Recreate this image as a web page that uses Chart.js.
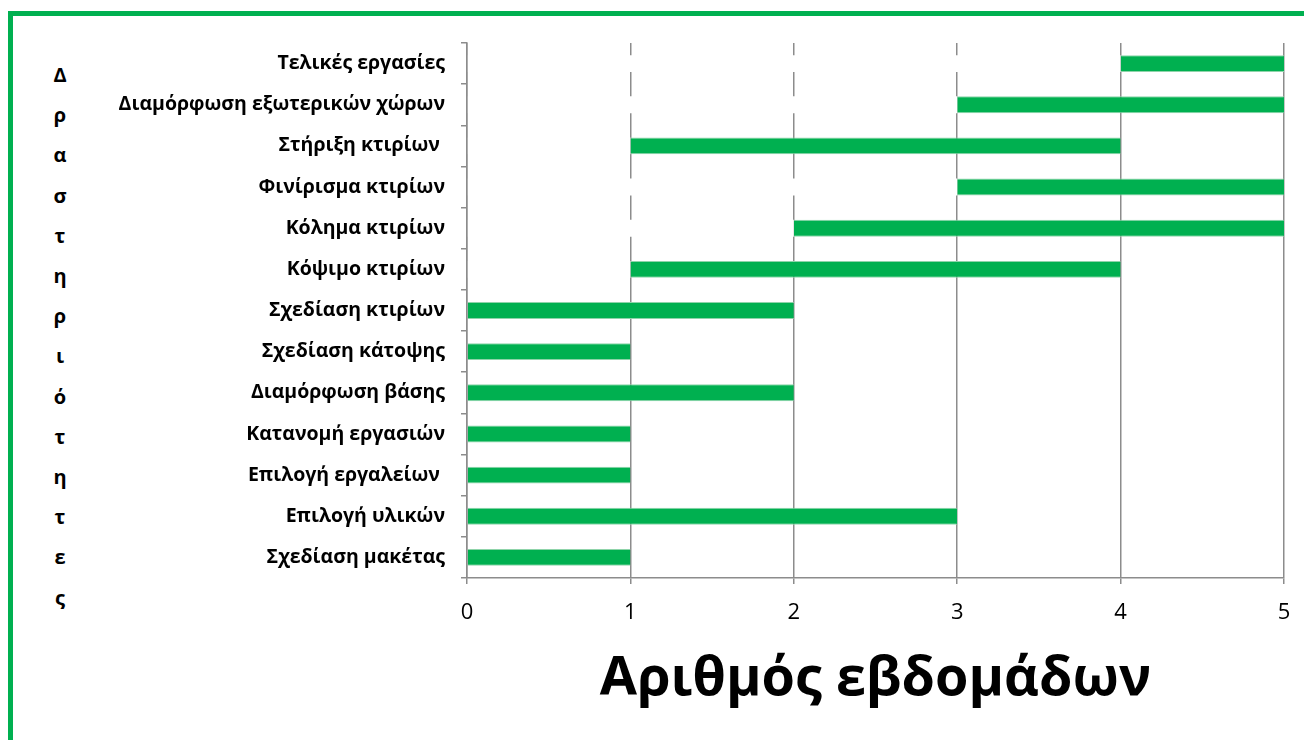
<!DOCTYPE html>
<html>
<head>
<meta charset="utf-8">
<script src="https://cdn.jsdelivr.net/npm/chart.js@4.4.0/dist/chart.umd.min.js"></script>
<style>
  html, body { margin: 0; padding: 0; background: #fff; overflow: hidden; }
  #wrap { position: relative; width: 1304px; height: 740px; }
  #frame {
    position: absolute; left: 8px; top: 11px; width: 1400px; height: 800px;
    border-left: 5px solid #00b050; border-top: 5px solid #00b050;
  }
  #ytitle {
    position: absolute; left: 40px; top: 55px; width: 40px;
    font: bold 20px 'Open Sans', sans-serif; line-height: 40.2px;
    text-align: center; color: #000;
  }
  #chart { position: absolute; left: 0; top: 0; }
</style>
</head>
<body>
<div id="wrap">
  <div id="frame"></div>
  <div id="ytitle"></div>
  <canvas id="chart" width="1304" height="740"></canvas>
</div>
<script>
const activities = [
    'Τελικές εργασίες',
    'Διαμόρφωση εξωτερικών χώρων',
    'Στήριξη κτιρίων ',
    'Φινίρισμα κτιρίων',
    'Κόλημα κτιρίων',
    'Κόψιμο κτιρίων',
    'Σχεδίαση κτιρίων',
    'Σχεδίαση κάτοψης',
    'Διαμόρφωση βάσης',
    'Κατανομή εργασιών',
    'Επιλογή εργαλείων ',
    'Επιλογή υλικών',
    'Σχεδίαση μακέτας'
];
const startWeek = [4, 3, 1, 3, 2, 1, 0, 0, 0, 0, 0, 0, 0];
const duration = [1, 2, 3, 2, 3, 3, 2, 1, 2, 1, 1, 3, 1];
const weekTicks = [0, 1, 2, 3, 4, 5];
const yTitle = 'Δραστηριότητες';
const xTitle = 'Αριθμός εβδομάδων';

const green = '#00b050';
const gray = '#8c8c8c';

document.getElementById('ytitle').innerHTML = yTitle.split('').join('<br>');

const ctx = document.getElementById('chart').getContext('2d');
new Chart(ctx, {
    type: 'bar',
    data: {
        labels: activities,
        datasets: [{
            label: 'start',
            data: startWeek,
            backgroundColor: '#ffffff',
            borderWidth: 0,
            categoryPercentage: 1,
            barPercentage: 0.41
        }, {
            label: 'duration',
            data: duration,
            backgroundColor: green,
            borderColor: '#8fd4aa',
            borderWidth: { top: 1, bottom: 1, left: 0, right: 0 },
            borderSkipped: false,
            categoryPercentage: 1,
            barPercentage: 0.41
        }]
    },
    options: {
        indexAxis: 'y',
        responsive: false,
        animation: false,
        layout: {
            padding: { left: 0, top: 43, right: 20, bottom: 0 }
        },
        plugins: {
            legend: { display: false },
            tooltip: { enabled: false }
        },
        scales: {
            x: {
                stacked: true,
                min: 0,
                max: 5,
                afterBuildTicks: scale => {
                    scale.ticks = weekTicks.map(v => ({ value: v }));
                },
                grid: {
                    color: gray,
                    lineWidth: 1.5,
                    tickLength: 6,
                    drawTicks: true
                },
                border: { display: true, color: gray, width: 1.5, z: 1 },
                ticks: {
                    color: '#000',
                    padding: 16,
                    font: { family: 'Open Sans', size: 22 }
                },
                title: {
                    display: true,
                    text: xTitle,
                    color: '#000',
                    padding: { top: 0, bottom: 28 },
                    font: { family: 'Open Sans', size: 54, weight: 'bold' }
                },
                afterFit: scale => {
                    scale.height = 162;
                    scale.paddingLeft = 0;
                    scale.paddingRight = 0;
                }
            },
            y: {
                stacked: true,
                grid: {
                    color: gray,
                    lineWidth: 1.5,
                    tickLength: 6,
                    drawOnChartArea: false,
                    drawTicks: true,
                    offset: true
                },
                border: { display: true, color: gray, width: 1.5, z: 1 },
                ticks: {
                    color: '#000',
                    padding: 16,
                    autoSkip: false,
                    font: { family: 'Open Sans', size: 19.5, weight: 'bold' }
                },
                afterFit: scale => { scale.width = 467; }
            }
        }
    }
});
</script>
</body>
</html>
